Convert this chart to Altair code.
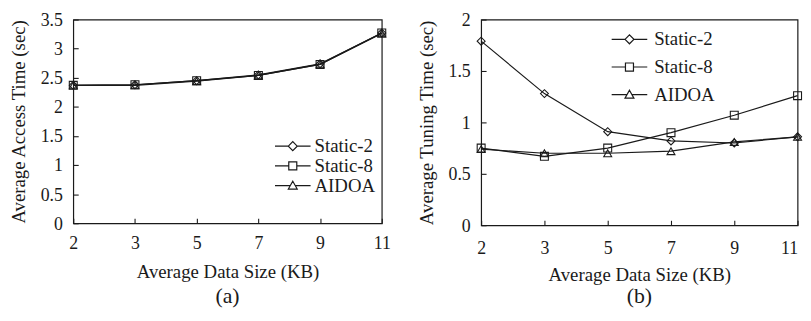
import altair as alt
import pandas as pd

sizes = [2, 3, 5, 7, 9, 11]
series_names = ["Static-2", "Static-8", "AIDOA"]

access_static2 = [2.37, 2.38, 2.45, 2.55, 2.74, 3.27]
access_static8 = [2.37, 2.38, 2.45, 2.54, 2.73, 3.27]
access_aidoa = [2.37, 2.37, 2.44, 2.54, 2.73, 3.26]

tuning_static2 = [1.79, 1.28, 0.91, 0.82, 0.80, 0.86]
tuning_static8 = [0.75, 0.67, 0.75, 0.90, 1.07, 1.26]
tuning_aidoa = [0.74, 0.70, 0.70, 0.72, 0.81, 0.86]

y_ticks_a = [0, 0.5, 1, 1.5, 2, 2.5, 3, 3.5]
y_ticks_b = [0, 0.5, 1, 1.5, 2]

FONT = "Liberation Serif"
INK = "#1a1a1a"

marker_shapes = ["diamond", "square", "triangle-up"]
legend_paths = [
    "M-2,0L-0.5,0M0.5,0L2,0M-0.5,0L0,-0.5L0.5,0L0,0.5Z",
    "M-2,0L-0.45,0M0.45,0L2,0M-0.45,-0.45L0.45,-0.45L0.45,0.45L-0.45,0.45Z",
    "M-2,0L-0.28,0M0.28,0L2,0M0,-0.5L0.5,0.38L-0.5,0.38Z",
]


def make_df(vals):
    rows = []
    for name, v in zip(series_names, vals):
        for s, y in zip(sizes, v):
            rows.append({"size": s, "series": name, "value": y})
    return pd.DataFrame(rows)


def panel(df, ytitle, yticks, caption, w, h, lx, ly, rowpad, lab_off,
          xlabpad, xtitlepad, capoff, flush_last=False):
    xaxis_kw = dict(
        title="Average Data Size (KB)",
        labelAngle=0,
        domain=False,
        offset=-5,
        tickSize=5,
        labelPadding=xlabpad,
        titlePadding=xtitlepad,
        grid=False,
    )
    if flush_last:
        xaxis_kw["labelAlign"] = alt.condition(
            "datum.value == 11", alt.value("right"), alt.value("center")
        )
    x = alt.X(
        "size:O",
        sort=sizes,
        scale=alt.Scale(type="point", padding=0),
        axis=alt.Axis(**xaxis_kw),
    )
    y = alt.Y(
        "value:Q",
        scale=alt.Scale(domain=[yticks[0], yticks[-1]], nice=False, zero=True),
        axis=alt.Axis(
            title=ytitle,
            values=yticks,
            format="~g",
            domain=False,
            offset=-5,
            tickSize=5,
            labelPadding=11,
            labelOffset=1,
            titlePadding=12,
            grid=False,
        ),
    )
    lines = alt.Chart(df).mark_line(color=INK, strokeWidth=1.2).encode(
        x=x, y=y, detail="series:N"
    )
    pts = alt.Chart(df).mark_point(
        filled=False, size=64, color=INK, strokeWidth=1.1, opacity=1
    ).encode(
        x=x,
        y=y,
        shape=alt.Shape(
            "series:N",
            scale=alt.Scale(domain=series_names, range=marker_shapes),
            legend=None,
        ),
    )
    leg = alt.Chart(df).mark_point(opacity=0, color=INK).encode(
        x=x,
        y=y,
        shape=alt.Shape(
            "series:N",
            scale=alt.Scale(domain=series_names, range=legend_paths),
            legend=alt.Legend(
                title=None,
                orient="none",
                legendX=lx,
                legendY=ly,
                labelFont=FONT,
                labelFontSize=19,
                labelColor=INK,
                symbolSize=324,
                symbolStrokeColor=INK,
                symbolStrokeWidth=1.2,
                symbolFillColor="transparent",
                symbolOpacity=1,
                rowPadding=rowpad,
                padding=0,
                labelOffset=lab_off,
            ),
        ),
    )
    return (
        alt.layer(lines, pts, leg)
        .resolve_scale(shape="independent")
        .properties(
            width=w,
            height=h,
            title=alt.TitleParams(
                caption,
                orient="bottom",
                frame="group",
                font=FONT,
                fontSize=22,
                fontWeight="normal",
                color=INK,
                offset=capoff,
            ),
        )
    )


df_a = make_df([access_static2, access_static8, access_aidoa])
df_b = make_df([tuning_static2, tuning_static8, tuning_aidoa])

pa = panel(df_a, "Average Access Time (sec)", y_ticks_a, "(a)", 312, 206,
           212, 118, 0, 12, 12, 10, 5)
pb = panel(df_b, "Average Tuning Time (sec)", y_ticks_b, "(b)", 320, 208,
           140, 10, 8, 15, 15, 8, 2, flush_last=True)

chart = (
    alt.hconcat(pa, pb, spacing=24.5)
    .properties(padding={"left": 0, "top": 1, "right": -2, "bottom": -2})
    .configure_view(stroke=INK, strokeWidth=1.2)
    .configure_axis(
        labelFont=FONT,
        titleFont=FONT,
        labelFontSize=18,
        titleFontSize=19,
        titleFontWeight="normal",
        labelColor=INK,
        titleColor=INK,
        tickColor=INK,
        tickWidth=1.1,
    )
)

chart.save("out.html", embed_options={"renderer": "svg", "actions": False})
